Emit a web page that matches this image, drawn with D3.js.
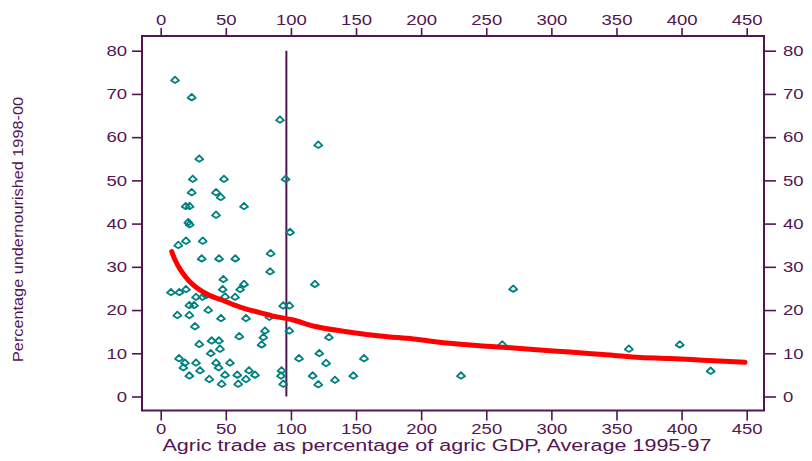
<!DOCTYPE html>
<html><head><meta charset="utf-8">
<script src="https://cdn.jsdelivr.net/npm/d3@7"></script>
<style>body{margin:0;background:#fff}svg{display:block}</style>
</head><body>
<svg id="c" width="812" height="461"></svg>
<script>
// Scatter: agric trade (% of agric GDP) vs percentage undernourished
const tradeX = [11.0,23.8,91.6,29.6,24.6,48.6,95.9,23.8,42.5,46.1,19.2,22.2,64.0,42.5,21.2,22.2,99.3,13.5,19.4,32.3,84.4,31.5,44.8,57.3,84.0,48.1,64.0,61.0,47.6,7.9,14.3,19.4,27.1,32.1,35.0,49.4,57.1,22.0,25.6,36.5,94.1,98.8,12.8,22.0,46.3,65.5,83.5,26.3,98.8,80.1,78.8,77.5,60.3,29.6,39.1,44.7,45.5,38.4,14.1,18.6,17.4,27.1,30.2,22.0,42.5,44.5,53.2,49.4,37.3,46.8,58.8,59.5,65.5,67.8,72.4,92.8,92.4,94.1,106.2,121.0,118.4,129.2,121.8,127.0,156.1,116.7,147.9,133.8,121.0,230.6,270.7,262.3,359.5,398.6,422.3];
const underN = [73.2,69.2,64.0,55.0,50.3,50.3,50.3,47.2,47.2,46.1,44.0,44.0,44.0,42.0,40.3,39.8,38.0,35.0,36.0,36.0,33.1,31.9,31.9,31.9,28.9,27.1,26.0,24.8,24.8,24.1,24.1,24.8,23.0,23.0,23.4,23.1,23.0,21.1,21.1,20.0,21.0,21.0,18.8,18.8,18.1,18.1,18.4,16.2,15.2,15.2,13.7,12.0,13.9,12.1,12.9,12.9,11.0,10.0,8.8,7.8,6.7,7.8,6.0,4.8,7.8,6.7,7.8,5.0,4.0,2.9,5.0,2.9,4.0,6.0,5.0,6.0,4.8,2.9,8.8,58.2,26.0,13.7,10.0,7.7,8.8,4.8,4.8,3.8,2.8,4.8,24.9,12.0,11.0,12.0,5.9];
// Fitted curve (red)
const fitX = [8.5,10.0,12.0,15.0,18.0,22.5,28.0,35.3,48.1,61.0,73.7,86.4,101.8,117.1,142.8,168.5,194.0,219.6,242.6,263.0,288.7,314.3,339.8,365.5,391.1,416.7,448.7];
const fitY = [33.5,32.3,31.0,29.4,28.1,26.5,25.1,23.7,22.2,20.7,19.6,18.6,17.7,16.3,15.0,14.0,13.3,12.4,11.8,11.4,10.8,10.3,9.7,9.1,8.8,8.4,7.9];
const refLineX = 96.5;
const xTicks = [0,50,100,150,200,250,300,350,400,450];
const yTicks = [0,10,20,30,40,50,60,70,80];
const xTitle = "Agric trade as percentage of agric GDP, Average 1995-97";
const yTitle = "Percentage undernourished 1998-00";

const ink = "#521552";
const svg = d3.select("#c");
const x = d3.scaleLinear().domain([0,450]).range([160.7,746.7]);
const y = d3.scaleLinear().domain([0,80]).range([396.5,50.7]);
const L = 142, R = 764, T = 36, B = 410.5;
const font = "Liberation Sans, Arial, sans-serif";

function styleAxis(g){
  g.select(".domain").remove();
  g.selectAll(".tick line").attr("stroke", ink).attr("stroke-width", 1.6);
  g.selectAll(".tick text").attr("fill", ink).attr("font-family", font).attr("font-size", 15)
    .each(function(d){ const s=String(d); d3.select(this).attr("textLength", s.length*10.3).attr("lengthAdjust","spacingAndGlyphs"); });
}
svg.append("g").attr("transform",`translate(0,${B})`)
  .call(d3.axisBottom(x).tickValues(xTicks).tickSize(10).tickPadding(3)).call(styleAxis);
svg.append("g").attr("transform",`translate(0,${T})`)
  .call(d3.axisTop(x).tickValues(xTicks).tickSize(8).tickPadding(3)).call(styleAxis);
svg.append("g").attr("transform",`translate(${L},0)`)
  .call(d3.axisLeft(y).tickValues(yTicks).tickSize(10).tickPadding(5)).call(styleAxis);
svg.append("g").attr("transform",`translate(${R},0)`)
  .call(d3.axisRight(y).tickValues(yTicks).tickSize(12).tickPadding(7)).call(styleAxis);

svg.append("rect").attr("x",L).attr("y",T).attr("width",R-L).attr("height",B-T)
  .attr("fill","none").attr("stroke",ink).attr("stroke-width",2);

// reference vertical line
svg.append("line").attr("x1",x(refLineX)).attr("x2",x(refLineX)).attr("y1",y(80)).attr("y2",y(0))
  .attr("stroke",ink).attr("stroke-width",2);

// points
const pts = tradeX.map((v,i)=>({x:v,y:underN[i]}));
svg.append("g").selectAll("path").data(pts).join("path")
  .attr("transform",d=>`translate(${x(d.x)},${y(d.y)})`)
  .attr("d","M0,-3.5 L4,0.5 L0,3 L-4,0.5 Z")
  .attr("fill","none").attr("stroke","#008080").attr("stroke-width",1.8).attr("stroke-linejoin","round");

// fitted curve
const fit = fitX.map((v,i)=>[v,fitY[i]]);
svg.append("path").datum(fit)
  .attr("d", d3.line().x(d=>x(d[0])).y(d=>y(d[1])).curve(d3.curveMonotoneX))
  .attr("fill","none").attr("stroke","#ff0000").attr("stroke-width",5).attr("stroke-linecap","round");

// titles
svg.append("text").attr("x",437).attr("y",451).attr("text-anchor","middle")
  .attr("fill",ink).attr("font-family",font).attr("font-size",16)
  .attr("textLength",549).attr("lengthAdjust","spacingAndGlyphs").text(xTitle);
svg.append("text").attr("transform","translate(23,229.5) rotate(-90)").attr("text-anchor","middle")
  .attr("fill",ink).attr("font-family",font).attr("font-size",14)
  .attr("textLength",265).attr("lengthAdjust","spacingAndGlyphs").text(yTitle);
</script>
</body></html>
